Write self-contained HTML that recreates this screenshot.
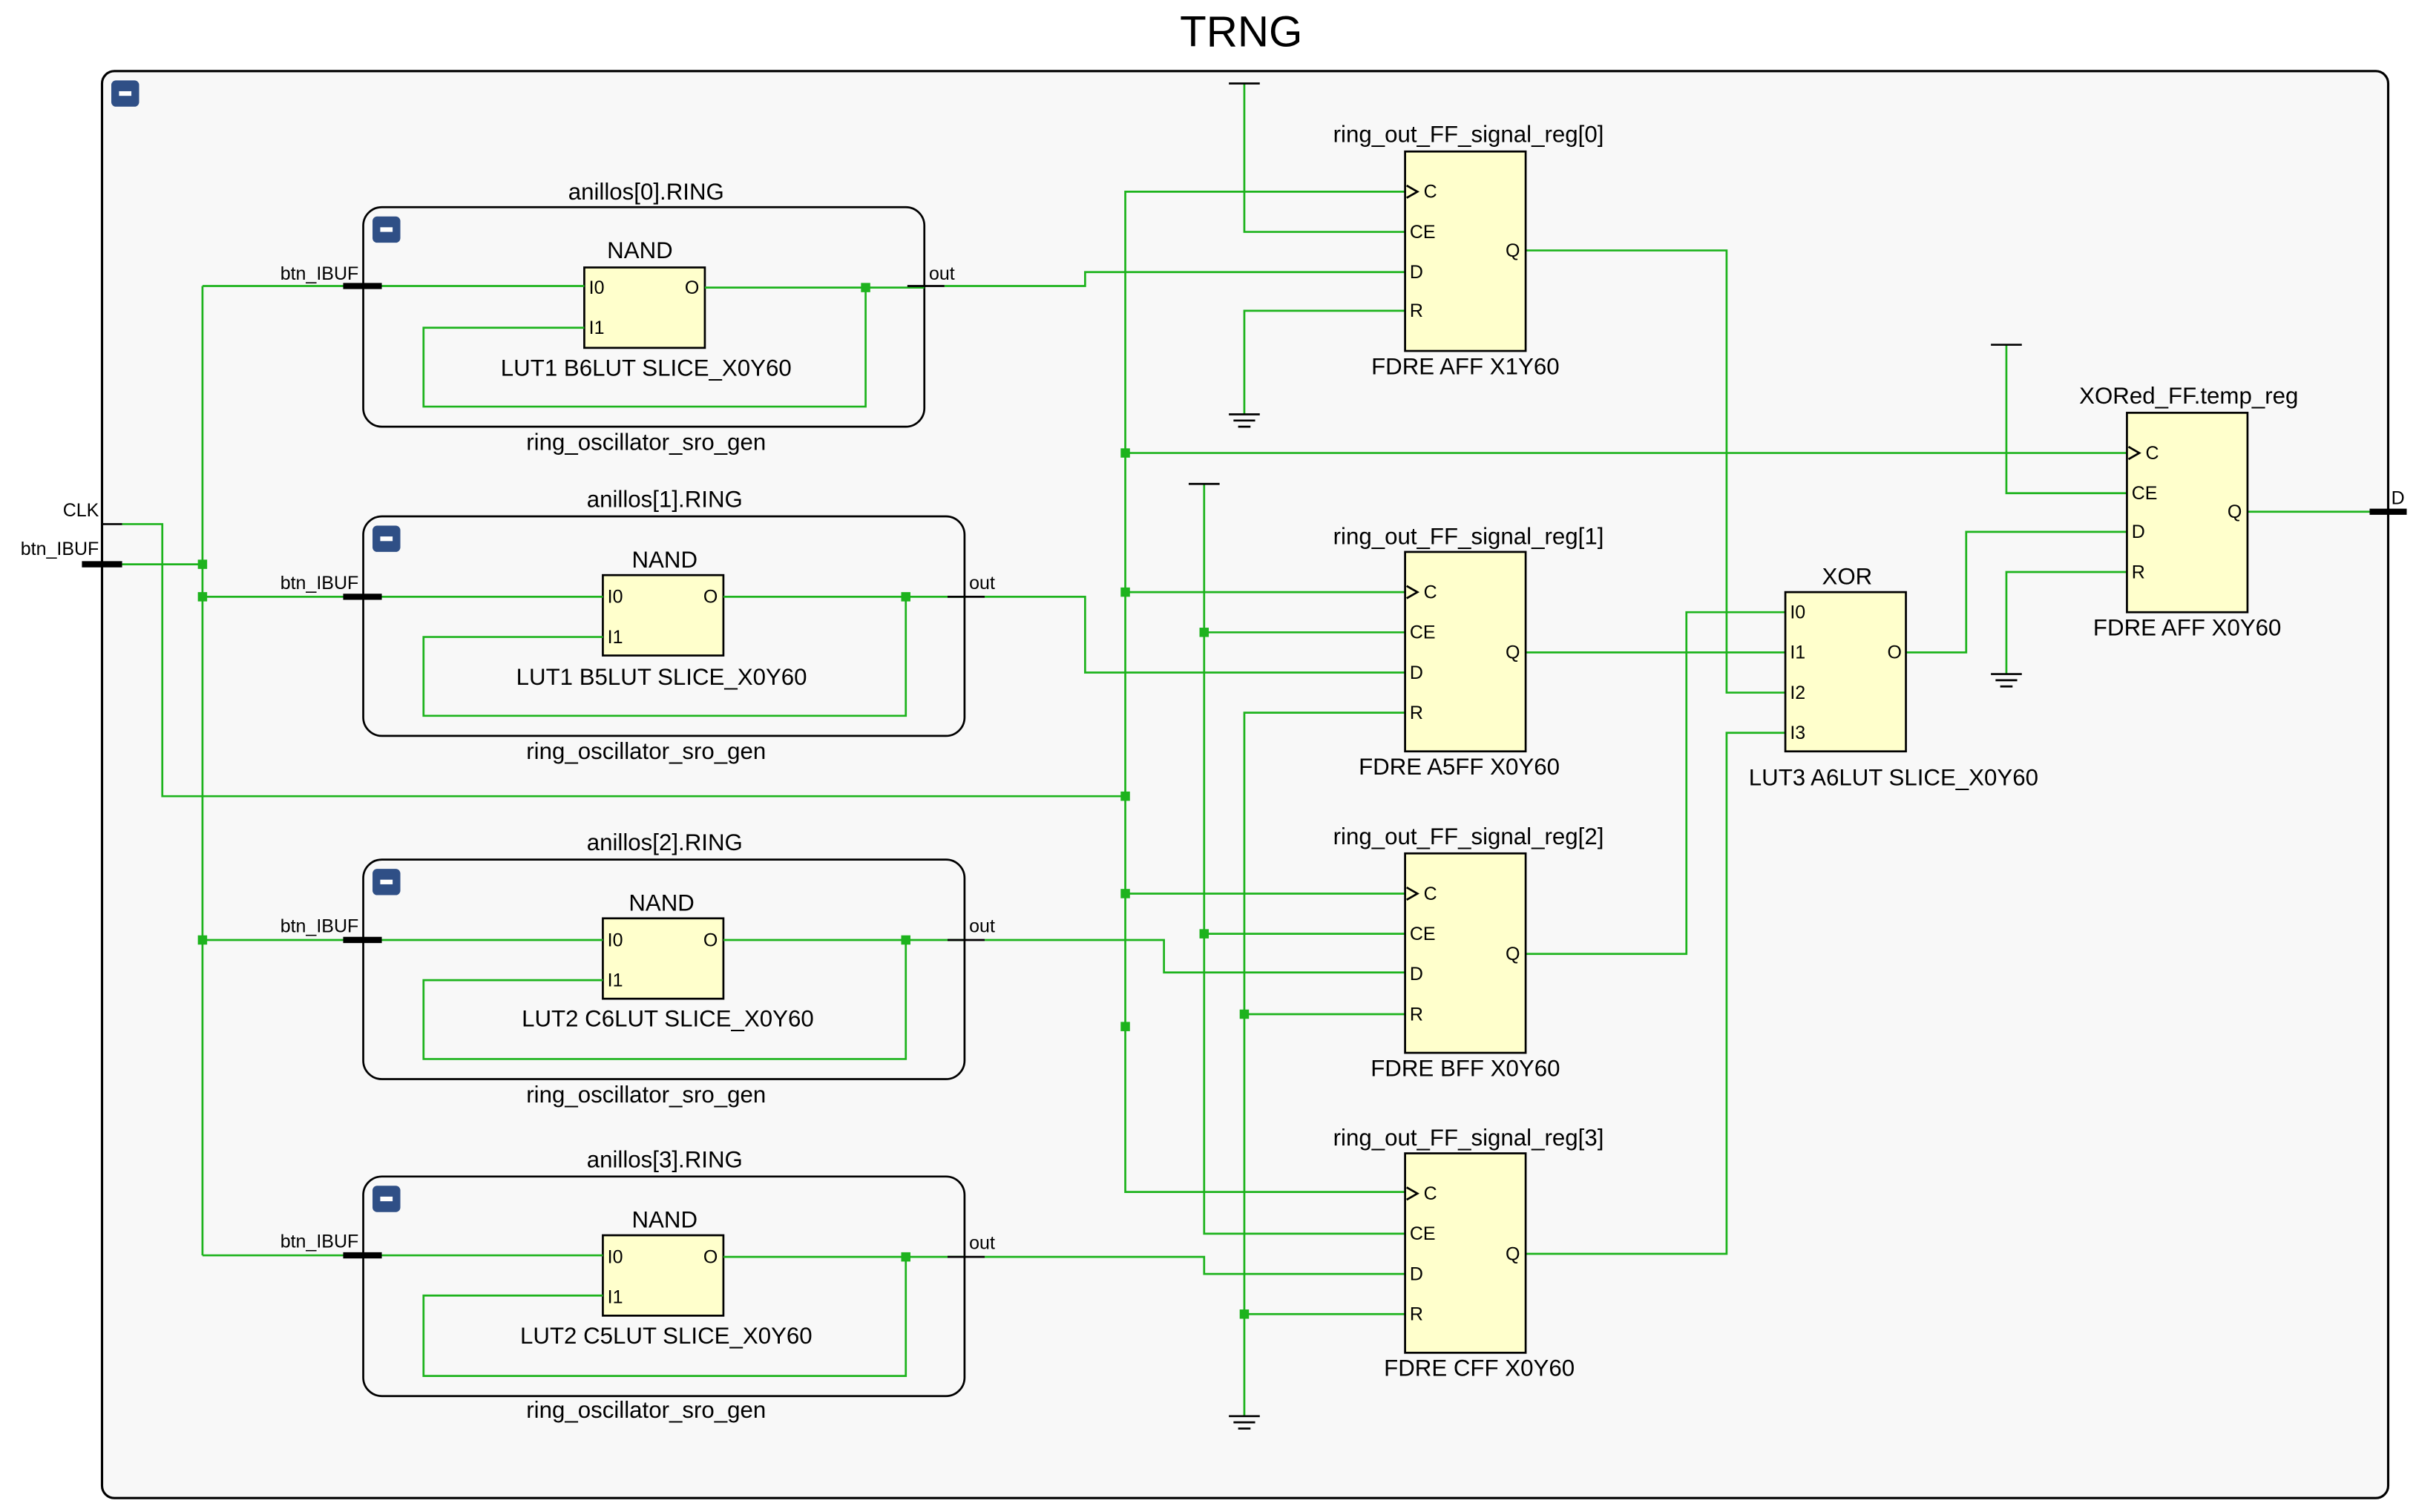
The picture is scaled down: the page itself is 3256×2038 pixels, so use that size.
<!DOCTYPE html>
<html><head><meta charset="utf-8"><style>
html,body{margin:0;padding:0;background:#fff;}
svg{display:block;}
text{font-family:"Liberation Sans",sans-serif;fill:#000;}
.g{stroke:#1db31d;stroke-width:1.3;fill:none;}
.k{stroke:#000;stroke-width:1.3;fill:none;}
.bx{fill:#ffffcc;stroke:#000;stroke-width:1.3;}
.t{font-size:15px;text-anchor:middle;}
.p{font-size:12px;}
.d{fill:#1db31d;}
</style></head><body>
<svg width="3256" height="2038" viewBox="0 0 1563 978" preserveAspectRatio="none" xmlns="http://www.w3.org/2000/svg">
<text x="803" y="30" style="font-size:28px;text-anchor:middle">TRNG</text>
<rect x="66" y="46" width="1479" height="923" rx="8" fill="#f8f8f8" stroke="#000" stroke-width="1.5"/>
<rect x="72" y="52" width="18" height="17" rx="3" fill="#2f4f86"/><rect x="77" y="59" width="8" height="3" fill="#fff"/>

<!-- ring blocks -->
<g>
<rect x="235" y="134" width="363" height="142" rx="12" fill="none" stroke="#000" stroke-width="1.3"/>
<rect x="241" y="140" width="18" height="17" rx="3" fill="#2f4f86"/><rect x="246" y="147" width="8" height="3" fill="#fff"/>
<text class="t" x="418" y="129">anillos[0].RING</text>
<text class="t" x="418" y="291">ring_oscillator_sro_gen</text>
<rect class="bx" x="378" y="173" width="78" height="52"/>
<text class="t" x="414" y="167">NAND</text>
<text class="p" x="381" y="190">I0</text><text class="p" x="381" y="216">I1</text><text class="p" x="443" y="190">O</text>
<text class="t" x="418" y="243">LUT1 B6LUT SLICE_X0Y60</text>
</g>
<g>
<rect x="235" y="334" width="389" height="142" rx="12" fill="none" stroke="#000" stroke-width="1.3"/>
<rect x="241" y="340" width="18" height="17" rx="3" fill="#2f4f86"/><rect x="246" y="347" width="8" height="3" fill="#fff"/>
<text class="t" x="430" y="328">anillos[1].RING</text>
<text class="t" x="418" y="491">ring_oscillator_sro_gen</text>
<rect class="bx" x="390" y="372" width="78" height="52"/>
<text class="t" x="430" y="367">NAND</text>
<text class="p" x="393" y="390">I0</text><text class="p" x="393" y="416">I1</text><text class="p" x="455" y="390">O</text>
<text class="t" x="428" y="443">LUT1 B5LUT SLICE_X0Y60</text>
</g>
<g>
<rect x="235" y="556" width="389" height="142" rx="12" fill="none" stroke="#000" stroke-width="1.3"/>
<rect x="241" y="562" width="18" height="17" rx="3" fill="#2f4f86"/><rect x="246" y="569" width="8" height="3" fill="#fff"/>
<text class="t" x="430" y="550">anillos[2].RING</text>
<text class="t" x="418" y="713">ring_oscillator_sro_gen</text>
<rect class="bx" x="390" y="594" width="78" height="52"/>
<text class="t" x="428" y="589">NAND</text>
<text class="p" x="393" y="612">I0</text><text class="p" x="393" y="638">I1</text><text class="p" x="455" y="612">O</text>
<text class="t" x="432" y="664">LUT2 C6LUT SLICE_X0Y60</text>
</g>
<g>
<rect x="235" y="761" width="389" height="142" rx="12" fill="none" stroke="#000" stroke-width="1.3"/>
<rect x="241" y="767" width="18" height="17" rx="3" fill="#2f4f86"/><rect x="246" y="774" width="8" height="3" fill="#fff"/>
<text class="t" x="430" y="755">anillos[3].RING</text>
<text class="t" x="418" y="917">ring_oscillator_sro_gen</text>
<rect class="bx" x="390" y="799" width="78" height="52"/>
<text class="t" x="430" y="794">NAND</text>
<text class="p" x="393" y="817">I0</text><text class="p" x="393" y="843">I1</text><text class="p" x="455" y="817">O</text>
<text class="t" x="431" y="869">LUT2 C5LUT SLICE_X0Y60</text>
</g>

<!-- green nets -->
<path class="g" d="M79 365H131 M131 185V812 M131 185H378 M131 386H390 M131 608H390 M131 812H390"/>
<path class="g" d="M79 339H105V515H728"/>
<path class="g" d="M456 186H560V263H274V212H378 M560 186H598"/>
<path class="g" d="M468 386H586V463H274V412H390 M586 386H624"/>
<path class="g" d="M468 608H586V685H274V634H390 M586 608H624"/>
<path class="g" d="M468 813H586V890H274V838H390 M586 813H624"/>
<path class="g" d="M611 185H702V176H910"/>
<path class="g" d="M637 386H702V435H910"/>
<path class="g" d="M637 608H753V629H910"/>
<path class="g" d="M637 813H779V824H910"/>
<path class="g" d="M910 124H728V771H910 M728 383H910 M728 578H910 M728 293H1376"/>
<path class="g" d="M805 54V150H910 M910 201H805V268"/>
<path class="g" d="M779 313V798H910 M779 409H910 M779 604H910"/>
<path class="g" d="M910 461H805V916 M805 656H910 M805 850H910"/>
<path class="g" d="M987 162H1117V448H1155 M987 422H1155 M987 617H1091V396H1155 M987 811H1117V474H1155"/>
<path class="g" d="M1233 422H1272V344H1376 M1298 223V319H1376 M1376 370H1298V436 M1454 331H1533"/>
<g class="d">
<rect x="128" y="362" width="6" height="6"/><rect x="128" y="383" width="6" height="6"/><rect x="128" y="605" width="6" height="6"/>
<rect x="557" y="183" width="6" height="6"/><rect x="583" y="383" width="6" height="6"/><rect x="583" y="605" width="6" height="6"/><rect x="583" y="810" width="6" height="6"/>
<rect x="725" y="290" width="6" height="6"/><rect x="725" y="380" width="6" height="6"/><rect x="725" y="512" width="6" height="6"/><rect x="725" y="575" width="6" height="6"/><rect x="725" y="661" width="6" height="6"/>
<rect x="776" y="406" width="6" height="6"/><rect x="776" y="601" width="6" height="6"/>
<rect x="802" y="653" width="6" height="6"/><rect x="802" y="847" width="6" height="6"/>
</g>

<!-- ports -->
<path d="M222 185H247 M222 386H247 M222 608H247 M222 812H247 M53 365H79 M1533 331H1557" stroke="#000" stroke-width="4"/>
<path class="k" d="M587 185H611 M613 386H637 M613 608H637 M613 813H637 M66 339H79"/>
<g class="p" style="text-anchor:end">
<text x="232" y="181">btn_IBUF</text><text x="232" y="381">btn_IBUF</text><text x="232" y="603">btn_IBUF</text><text x="232" y="807">btn_IBUF</text>
<text x="64" y="334">CLK</text><text x="64" y="359">btn_IBUF</text>
</g>
<g class="p"><text x="601" y="181">out</text><text x="627" y="381">out</text><text x="627" y="603">out</text><text x="627" y="808">out</text><text x="1547" y="326">D</text></g>

<!-- VCC / GND -->
<path class="k" d="M795 54H815 M769 313H789 M1288 223H1308"/>
<path class="k" d="M795 268H815 M798 272H812 M801 276H809 M795 916H815 M798 920H812 M801 924H809 M1288 436H1308 M1291 440H1305 M1294 444H1302"/>

<!-- FFs -->
<g>
<rect class="bx" x="909" y="98" width="78" height="129"/>
<text class="t" x="950" y="92">ring_out_FF_signal_reg[0]</text>
<text class="t" x="948" y="242">FDRE AFF X1Y60</text>
<path class="k" d="M910 120L917 124L910 128"/>
<text class="p" x="921" y="128">C</text><text class="p" x="912" y="154">CE</text><text class="p" x="912" y="180">D</text><text class="p" x="912" y="205">R</text><text class="p" x="974" y="166">Q</text>
</g>
<g>
<rect class="bx" x="909" y="357" width="78" height="129"/>
<text class="t" x="950" y="352">ring_out_FF_signal_reg[1]</text>
<text class="t" x="944" y="501">FDRE A5FF X0Y60</text>
<path class="k" d="M910 379L917 383L910 387"/>
<text class="p" x="921" y="387">C</text><text class="p" x="912" y="413">CE</text><text class="p" x="912" y="439">D</text><text class="p" x="912" y="465">R</text><text class="p" x="974" y="426">Q</text>
</g>
<g>
<rect class="bx" x="909" y="552" width="78" height="129"/>
<text class="t" x="950" y="546">ring_out_FF_signal_reg[2]</text>
<text class="t" x="948" y="696">FDRE BFF X0Y60</text>
<path class="k" d="M910 574L917 578L910 582"/>
<text class="p" x="921" y="582">C</text><text class="p" x="912" y="608">CE</text><text class="p" x="912" y="634">D</text><text class="p" x="912" y="660">R</text><text class="p" x="974" y="621">Q</text>
</g>
<g>
<rect class="bx" x="909" y="746" width="78" height="129"/>
<text class="t" x="950" y="741">ring_out_FF_signal_reg[3]</text>
<text class="t" x="957" y="890">FDRE CFF X0Y60</text>
<path class="k" d="M910 768L917 772L910 776"/>
<text class="p" x="921" y="776">C</text><text class="p" x="912" y="802">CE</text><text class="p" x="912" y="828">D</text><text class="p" x="912" y="854">R</text><text class="p" x="974" y="815">Q</text>
</g>
<g>
<rect class="bx" x="1155" y="383" width="78" height="103"/>
<text class="t" x="1195" y="378">XOR</text>
<text class="t" x="1225" y="508">LUT3 A6LUT SLICE_X0Y60</text>
<text class="p" x="1158" y="400">I0</text><text class="p" x="1158" y="426">I1</text><text class="p" x="1158" y="452">I2</text><text class="p" x="1158" y="478">I3</text><text class="p" x="1221" y="426">O</text>
</g>
<g>
<rect class="bx" x="1376" y="267" width="78" height="129"/>
<text class="t" x="1416" y="261">XORed_FF.temp_reg</text>
<text class="t" x="1415" y="411">FDRE AFF X0Y60</text>
<path class="k" d="M1377 289L1384 293L1377 297"/>
<text class="p" x="1388" y="297">C</text><text class="p" x="1379" y="323">CE</text><text class="p" x="1379" y="348">D</text><text class="p" x="1379" y="374">R</text><text class="p" x="1441" y="335">Q</text>
</g>
</svg>
</body></html>
